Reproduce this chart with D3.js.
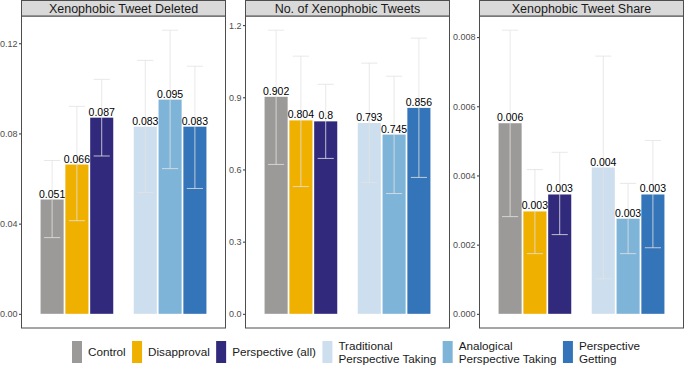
<!DOCTYPE html>
<html><head><meta charset="utf-8">
<script src="https://cdn.jsdelivr.net/npm/d3@7"></script>
<style>body{margin:0;background:#fff;} svg{display:block;font-family:"Liberation Sans",Arial,Helvetica,sans-serif;}</style>
</head><body>
<svg id="chart" width="685" height="366"></svg>
<script>
// ---- data ----
const categories = ["Control","Disapproval","Perspective (all)","Traditional Perspective Taking","Analogical Perspective Taking","Perspective Getting"];
const groupOf = ["g1","g1","g1","g2","g2","g2"];
const colors = ["#9b9a99","#efb000","#312a7c","#cddfee","#7fb4d9","#3474b8"];
const panelTitles = ["Xenophobic Tweet Deleted","No. of Xenophobic Tweets","Xenophobic Tweet Share"];
const deletedValues = [0.0507,0.0662,0.087,0.083,0.095,0.083];
const deletedLower  = [0.0338,0.0413,0.070,0.0538,0.0644,0.0556];
const deletedUpper  = [0.068,0.092,0.104,0.1124,0.1258,0.1098];
const countValues = [0.902,0.804,0.8,0.793,0.745,0.856];
const countLower  = [0.621,0.529,0.646,0.546,0.500,0.567];
const countUpper  = [1.179,1.071,0.954,1.042,0.9875,1.146];
const shareValues = [0.00551,0.00296,0.00345,0.00423,0.00275,0.00345];
const shareLower  = [0.00281,0.00174,0.00229,0.00101,0.00174,0.00191];
const shareUpper  = [0.0082,0.00417,0.00467,0.00745,0.00377,0.00501];
const deletedTicks = [0,0.04,0.08,0.12];
const countTicks = [0,0.3,0.6,0.9,1.2];
const shareTicks = [0,0.002,0.004,0.006,0.008];
const tickFormats = [".2f",".1f",".3f"];
const legendLines = [["Control"],["Disapproval"],["Perspective (all)"],["Traditional","Perspective Taking"],["Analogical","Perspective Taking"],["Perspective","Getting"]];

const panels = [
  {title:panelTitles[0], values:deletedValues, lower:deletedLower, upper:deletedUpper, ticks:deletedTicks, fmt:tickFormats[0], x0:21, x1:226},
  {title:panelTitles[1], values:countValues, lower:countLower, upper:countUpper, ticks:countTicks, fmt:tickFormats[1], x0:245, x1:450},
  {title:panelTitles[2], values:shareValues, lower:shareLower, upper:shareUpper, ticks:shareTicks, fmt:tickFormats[2], x0:479, x1:684}
];

const svg = d3.select("#chart");
const stripTop = 0.5, stripBot = 16, panelBot = 328;

panels.forEach(p => {
  const g = svg.append("g");
  const M = d3.max(p.upper);
  const y = d3.scaleLinear().domain([-0.05*M, 1.05*M]).range([panelBot, stripBot]);
  const xg = d3.scalePoint().domain(["g1","g2"]).range([p.x0, p.x1]).padding(0.6);
  const gw = (xg.step()) * 0.78;
  const xb = d3.scaleBand().domain([0,1,2]).range([-gw/2, gw/2]).paddingInner(0.07);
  const data = categories.map((c,i)=>({c, i, g:groupOf[i], v:p.values[i], lo:p.lower[i], hi:p.upper[i], col:colors[i]}));
  const cx = d => xg(d.g) + xb(d.i%3);

  g.append("rect").attr("x",p.x0+0.5).attr("y",stripBot).attr("width",p.x1-p.x0-1).attr("height",panelBot-stripBot)
    .attr("fill","#fff").attr("stroke","#4d4d4d").attr("stroke-width",1);

  g.selectAll("rect.bar").data(data).join("rect").attr("class","bar")
    .attr("x",cx).attr("width",xb.bandwidth())
    .attr("y",d=>y(d.v)).attr("height",d=>y(0)-y(d.v)).attr("fill",d=>d.col);

  const eb = g.selectAll("g.eb").data(data).join("g").attr("class","eb")
    .attr("stroke","#e2e2e2").attr("stroke-opacity",0.8).attr("stroke-width",1);
  const capW = xb.bandwidth()*0.35;
  eb.append("line").attr("x1",d=>cx(d)+xb.bandwidth()/2).attr("x2",d=>cx(d)+xb.bandwidth()/2)
    .attr("y1",d=>y(d.lo)).attr("y2",d=>y(d.hi));
  eb.append("line").attr("x1",d=>cx(d)+xb.bandwidth()/2-capW).attr("x2",d=>cx(d)+xb.bandwidth()/2+capW)
    .attr("y1",d=>y(d.hi)).attr("y2",d=>y(d.hi));
  eb.append("line").attr("x1",d=>cx(d)+xb.bandwidth()/2-capW).attr("x2",d=>cx(d)+xb.bandwidth()/2+capW)
    .attr("y1",d=>y(d.lo)).attr("y2",d=>y(d.lo));

  g.selectAll("text.val").data(data).join("text").attr("class","val")
    .attr("x",d=>cx(d)+xb.bandwidth()/2).attr("y",d=>y(d.v)-2)
    .attr("text-anchor","middle").attr("font-size",10.5).attr("fill","#000")
    .text(d=>String(+d.v.toFixed(3)));

  const ax = g.append("g").attr("transform",`translate(${p.x0},0)`)
    .call(d3.axisLeft(y).tickValues(p.ticks).tickFormat(d3.format(p.fmt)).tickSize(2).tickPadding(1.5));
  ax.select(".domain").remove();
  ax.selectAll("line").attr("stroke","#333");
  ax.selectAll("text").attr("fill","#4d4d4d").attr("font-size",9).attr("font-family","Liberation Sans, Arial, sans-serif");

  g.append("rect").attr("x",p.x0+0.5).attr("y",stripTop).attr("width",p.x1-p.x0-1).attr("height",stripBot-stripTop)
    .attr("fill","#d9d9d9").attr("stroke","#4d4d4d").attr("stroke-width",1);
  g.append("text").attr("x",(p.x0+p.x1)/2).attr("y",stripBot-3.5).attr("text-anchor","middle")
    .attr("font-size",12.5).attr("fill","#1a1a1a").text(p.title);
});

// legend
const leg = svg.append("g");
const items = leg.selectAll("g.li").data(categories.map((c,i)=>({c,i}))).join("g").attr("class","li");
items.append("rect").attr("width",10).attr("height",22).attr("y",341).attr("fill",d=>colors[d.i]);
items.each(function(d){
  const t = d3.select(this).append("text").attr("font-size",11.7).attr("fill","#1a1a1a");
  const lines = legendLines[d.i];
  if (lines.length === 1) {
    t.append("tspan").attr("x",16).attr("y",356).text(lines[0]);
  } else {
    t.append("tspan").attr("x",16).attr("y",350).text(lines[0]);
    t.append("tspan").attr("x",16).attr("y",363).text(lines[1]);
  }
});
const widths=[];
items.each(function(){ widths.push(this.getBBox().width); });
const legL = 72, legR = 640;
const gap = (legR - legL - d3.sum(widths)) / (widths.length-1);
let xpos = legL;
items.each(function(d,i){ d3.select(this).attr("transform",`translate(${xpos},0)`); xpos += widths[i] + gap; });
</script>
</body></html>
